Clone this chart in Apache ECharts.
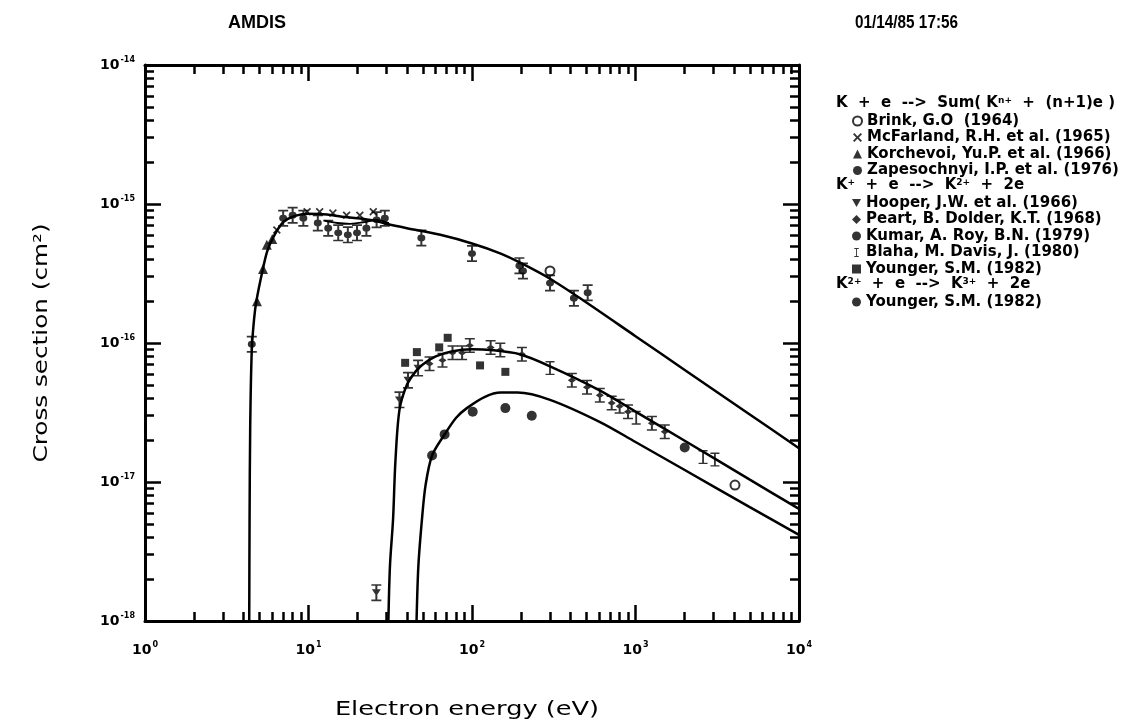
<!DOCTYPE html>
<html><head><meta charset="utf-8">
<script src="https://cdn.jsdelivr.net/npm/echarts@6/dist/echarts.min.js"></script>
<style>html,body{margin:0;padding:0;background:#fff}#c{width:1137px;height:724px}</style>
</head><body><div id="c"></div>
<script>
// ---------- tick values ----------
const xRange = [1, 10000];
const yRange = [1e-18, 1e-14];
const xMinorTicks = [2,3,4,5,6,7,8,9,20,30,40,50,60,70,80,90,200,300,400,500,600,700,800,900,2000,3000,4000,5000,6000,7000,8000,9000];
const yMinorTicks = [2e-18,3e-18,4e-18,5e-18,6e-18,7e-18,8e-18,9e-18,2e-17,3e-17,4e-17,5e-17,6e-17,7e-17,8e-17,9e-17,2e-16,3e-16,4e-16,5e-16,6e-16,7e-16,8e-16,9e-16,2e-15,3e-15,4e-15,5e-15,6e-15,7e-15,8e-15,9e-15];

// ---------- theory curves ----------
const topCurveE = [4.34,4.36,4.4,4.5,4.65,4.8,5.2,5.6,6.2,7,8,10,13,16,20,25,30,40,64,100,150,200,300,478,1000,2000,5000,10000];
const topCurveS = [1e-18,5e-18,2.5e-17,9e-17,1.5e-16,2.0e-16,3.2e-16,4.6e-16,6.0e-16,7.4e-16,8.1e-16,8.5e-16,8.4e-16,8.1e-16,7.9e-16,7.6e-16,7.2e-16,6.7e-16,6.0e-16,5.2e-16,4.4e-16,3.75e-16,2.9e-16,2.03e-16,1.12e-16,6.4e-17,3.06e-17,1.75e-17];
const bandE = [12.5,15,18,22,26,31];
const bandS = [7.6e-16,7.3e-16,7.2e-16,7.4e-16,7.7e-16,7.3e-16];
const midCurveE = [30.8,31.5,32.9,34,36,40,45,50,60,75,100,130,196,300,607,1000,2000,5000,10000];
const midCurveS = [1e-18,2.5e-18,5.4e-18,1.4e-17,3.3e-17,5.0e-17,6.2e-17,7.0e-17,8.0e-17,8.7e-17,9.0e-17,8.9e-17,8.3e-17,6.8e-17,4.55e-17,3.21e-17,1.98e-17,1.04e-17,6.4e-18];
const lowCurveE = [45.8,47,49.5,52,57,68,80,93,120,150,190,300,607,1000,2000,5000,10000];
const lowCurveS = [1e-18,2.5e-18,5.5e-18,9.5e-18,1.55e-17,2.2e-17,2.9e-17,3.4e-17,4.1e-17,4.4e-17,4.4e-17,3.9e-17,2.7e-17,1.94e-17,1.22e-17,6.6e-18,4.17e-18];

// ---------- measurements [energy eV, cross section cm2] ----------
const brink = [[300,3.3e-16],[4060,9.5e-18]];
const mcfarland = [[6.4,6.5e-16],[9.8,8.8e-16],[11.7,8.8e-16],[14.1,8.6e-16],[17.1,8.3e-16],[20.6,8.3e-16],[24.9,8.8e-16]];
const korchevoi = [[4.84,2.0e-16],[5.27,3.4e-16],[5.56,5.1e-16],[6.0,5.6e-16]];
const zapesochnyi = [[4.5,9.8e-17],[7.0,7.9e-16],[8.0,8.3e-16],[9.3,7.9e-16],[11.4,7.3e-16],[13.2,6.7e-16],[15.2,6.2e-16],[17.4,6.0e-16],[19.8,6.2e-16],[22.6,6.7e-16],[26.1,7.7e-16],[29.3,7.9e-16],[49,5.7e-16],[100,4.4e-16],[195,3.6e-16],[205,3.3e-16],[300,2.7e-16],[420,2.1e-16],[510,2.3e-16]];
const hooper = [[26,1.6e-18],[36,3.9e-17],[40.6,5.4e-17],[46.8,6.6e-17]];
const peart = [[55,7.1e-17],[66,7.5e-17],[76,8.5e-17],[87,8.5e-17],[97,9.6e-17],[130,9.3e-17],[149,8.9e-17],[202,8.3e-17],[408,5.4e-17],[505,4.8e-17],[605,4.2e-17],[715,3.7e-17],[800,3.5e-17],[900,3.2e-17],[1260,2.65e-17],[1510,2.3e-17]];
const kumar = [[2000,1.77e-17]];
const blaha = [[300,6.6e-17],[1010,2.9e-17],[2590,1.51e-17],[3060,1.45e-17]];
const youngerK1 = [[39,7.2e-17],[46,8.6e-17],[63,9.3e-17],[71,1.09e-16],[112,6.9e-17],[160,6.2e-17]];
const youngerK2 = [[57,1.55e-17],[68,2.2e-17],[101,3.2e-17],[160,3.4e-17],[232,3.0e-17]];

// ---------- styling ----------
const FONT = 'DejaVu Sans';
const zip = (a, b) => a.map((v, i) => [v, b[i]]);
const P_X = 'path://M0,1.5L1.5,0L5,3.5L8.5,0L10,1.5L6.5,5L10,8.5L8.5,10L5,6.5L1.5,10L0,8.5L3.5,5Z';
const P_DOWN = 'path://M0,0L10,0L5,9Z';
const P_IBEAM = 'path://M0,0H10V2H6V18H10V20H0V18H4V2H0Z';
const P_IB_CIRC = 'path://M0,0H10V2H6V18H10V20H0V18H4V2H0Z M1,10a4,4 0 1,1 8,0a4,4 0 1,1 -8,0Z';
const P_IB_TRI = 'path://M0,0H10V2H6V18H10V20H0V18H4V2H0Z M0.5,6H9.5L5,14Z';
const P_IB_DIA = 'path://M0,0H10V2H6V18H10V20H0V18H4V2H0Z M5,6L9,10L5,14L1,10Z';

const labelFmt = v => '{b|10}{s|' + Math.round(Math.log10(v)) + '}';
const tickRich = {
  b: {fontFamily: FONT, fontSize: 14, fontWeight: 'bold', color: '#000', lineHeight: 18},
  s: {fontFamily: FONT, fontSize: 8, fontWeight: 'bold', color: '#000', verticalAlign: 'top', padding: [0,0,0,1]}
};

function majorAxis(dim, pos, showLabel) {
  return {
    type: 'log', logBase: 10, position: pos,
    min: dim === 'x' ? xRange[0] : yRange[0],
    max: dim === 'x' ? xRange[1] : yRange[1],
    axisLine: {show: true, lineStyle: {color: '#000', width: 3}},
    axisTick: {show: true, inside: true, length: 16, lineStyle: {color: '#000', width: 2.5}},
    splitLine: {show: false}, minorTick: {show: false},
    axisLabel: showLabel ? {show: true, formatter: labelFmt, rich: tickRich, margin: dim === 'x' ? 20 : 10} : {show: false}
  };
}
function minorAxis(dim, pos) {
  const vals = (dim === 'x' ? xMinorTicks : yMinorTicks).map(v => Math.log10(v));
  return {
    type: 'value', position: pos,
    min: dim === 'x' ? Math.log10(xRange[0]) : Math.log10(yRange[0]),
    max: dim === 'x' ? Math.log10(xRange[1]) : Math.log10(yRange[1]),
    axisLine: {show: false},
    axisTick: {show: true, inside: true, length: 9, customValues: vals, lineStyle: {color: '#000', width: 2.5}},
    axisLabel: {show: false}, splitLine: {show: false}
  };
}

const lineS = (name, e, s, w) => ({
  type: 'line', name: name, data: zip(e, s), xAxisIndex: 0, yAxisIndex: 0,
  showSymbol: false, smooth: 0.3, silent: true,
  lineStyle: {color: '#000', width: w}, z: 3
});
const scat = (name, data, symbol, size) => ({
  type: 'scatter', name: name, data: data, xAxisIndex: 0, yAxisIndex: 0,
  symbol: symbol, symbolSize: size, itemStyle: {color: '#000', borderColor: '#000', borderWidth: symbol === 'emptyCircle' ? 2.2 : 0},
  z: 4
});

const legendCommon = {
  orient: 'vertical', left: 852, itemGap: 0.5, itemWidth: 9, itemHeight: 9,
  selectedMode: false, padding: 0,
  textStyle: {fontFamily: FONT, fontSize: 15, fontWeight: 'bold', color: '#000', lineHeight: 16}
};
const supRich = {s: {fontFamily: FONT, fontSize: 9, fontWeight: 'bold', verticalAlign: 'top'}};
const headText = (top, text) => ({
  type: 'text', left: 836, top: top,
  style: {text: text, fontFamily: FONT, fontSize: 15, fontWeight: 'bold', fill: '#000', rich: supRich}
});

const chart = echarts.init(document.getElementById('c'), null, {renderer: 'canvas'});
chart.setOption({
  backgroundColor: '#fff',
  animation: false,
  grid: {left: 145, right: 338, top: 65, bottom: 103, containLabel: false},
  xAxis: [majorAxis('x', 'bottom', true), minorAxis('x', 'bottom'), majorAxis('x', 'top', false), minorAxis('x', 'top')],
  yAxis: [majorAxis('y', 'left', true), minorAxis('y', 'left'), majorAxis('y', 'right', false), minorAxis('y', 'right')],
  legend: [
    Object.assign({}, legendCommon, {top: 113, data: [
      {name: 'Brink, G.O  (1964)', icon: 'emptyCircle'},
      {name: 'McFarland, R.H. et al. (1965)', icon: P_X},
      {name: 'Korchevoi, Yu.P. et al. (1966)', icon: 'triangle'},
      {name: 'Zapesochnyi, I.P. et al. (1976)', icon: 'circle'}]}),
    Object.assign({}, legendCommon, {top: 195, data: [
      {name: 'Hooper, J.W. et al. (1966)', icon: P_DOWN},
      {name: 'Peart, B. Dolder, K.T. (1968)', icon: 'diamond'},
      {name: 'Kumar, A. Roy, B.N. (1979)', icon: 'circle'},
      {name: 'Blaha, M. Davis, J. (1980)', icon: P_IBEAM},
      {name: 'Younger, S.M. (1982)', icon: 'rect'}]}),
    Object.assign({}, legendCommon, {top: 294, data: [
      {name: 'Younger, S.M. (1982) ', icon: 'circle'}]})
  ],
  graphic: [
    {type: 'text', x: 228, y: 23, scaleX: 1.0, style: {text: 'AMDIS', fontFamily: 'Liberation Sans', fontSize: 18, fontWeight: 'bold', fill: '#000', align: 'left', verticalAlign: 'middle'}},
    {type: 'text', x: 958, y: 23, scaleX: 0.85, style: {text: '01/14/85 17:56', fontFamily: 'Liberation Sans', fontSize: 18, fontWeight: 'bold', fill: '#000', align: 'right', verticalAlign: 'middle'}},
    headText(96, 'K  +  e  -->  Sum( K{s|n+}  +  (n+1)e )'),
    headText(178, 'K{s|+}  +  e  -->  K{s|2+}  +  2e'),
    headText(277, 'K{s|2+}  +  e  -->  K{s|3+}  +  2e'),
    {type: 'text', x: 467, y: 710, scaleX: 1.35, style: {text: 'Electron energy (eV)', fontFamily: FONT, fontSize: 19, fill: '#000', align: 'center', verticalAlign: 'middle'}},
    {type: 'text', x: 42, y: 343, rotation: Math.PI / 2, scaleX: 1.3, style: {text: 'Cross section (cm\u00B2)', fontFamily: FONT, fontSize: 19, fill: '#000', align: 'center', verticalAlign: 'middle'}}
  ],
  series: [
    lineS('topCurve', topCurveE, topCurveS, 2.5),
    lineS('band', bandE, bandS, 1.8),
    lineS('midCurve', midCurveE, midCurveS, 2.5),
    lineS('lowCurve', lowCurveE, lowCurveS, 2.5),
    scat('Brink, G.O  (1964)', brink, 'emptyCircle', 9),
    scat('McFarland, R.H. et al. (1965)', mcfarland, P_X, 8),
    scat('Korchevoi, Yu.P. et al. (1966)', korchevoi, 'triangle', 10),
    scat('Zapesochnyi, I.P. et al. (1976)', zapesochnyi, P_IB_CIRC, [10, 17]),
    scat('Hooper, J.W. et al. (1966)', hooper, P_IB_TRI, [10, 17]),
    scat('Peart, B. Dolder, K.T. (1968)', peart, P_IB_DIA, [10, 15]),
    scat('Kumar, A. Roy, B.N. (1979)', kumar, 'circle', 10),
    scat('Blaha, M. Davis, J. (1980)', blaha, P_IBEAM, [9, 14]),
    scat('Younger, S.M. (1982)', youngerK1, 'rect', 8),
    scat('Younger, S.M. (1982) ', youngerK2, 'circle', 10)
  ]
});
</script>
</body></html>
